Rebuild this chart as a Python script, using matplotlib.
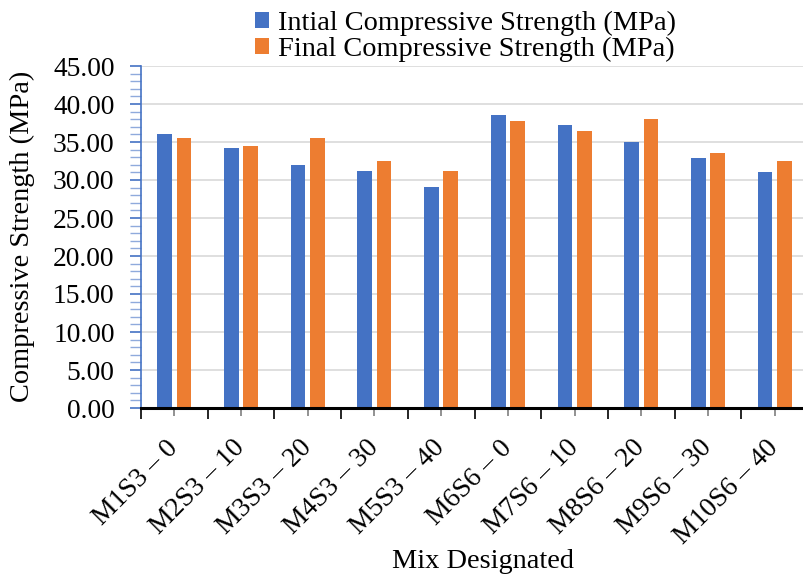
import matplotlib
matplotlib.use("Agg")
import matplotlib.pyplot as plt
from matplotlib.ticker import MultipleLocator, FixedLocator, FuncFormatter
import numpy as np

categories = ["M1S3 – 0", "M2S3 – 10", "M3S3 – 20", "M4S3 – 30", "M5S3 – 40",
              "M6S6 – 0", "M7S6 – 10", "M8S6 – 20", "M9S6 – 30", "M10S6 – 40"]
initial = [36.0, 34.2, 32.0, 31.2, 29.1, 38.5, 37.2, 35.0, 32.9, 31.0]
final = [35.5, 34.5, 35.5, 32.5, 31.2, 37.8, 36.5, 38.0, 33.6, 32.5]
series_names = ["Intial Compressive Strength (MPa)", "Final Compressive Strength (MPa)"]

plt.rcParams['font.family'] = ['Liberation Serif', 'DejaVu Serif']
FS = 20.4
TFS = 19.8

fig = plt.figure(figsize=(8.04, 5.82), dpi=100)
ax = fig.add_axes([141/804, 1-408/582, 667/804, 342/582])

x = np.arange(len(categories))
w = 0.22
off = 0.145
b1 = ax.bar(x - off, initial, w, color='#4472C4', label=series_names[0], zorder=3)
b2 = ax.bar(x + off, final, w, color='#ED7D31', label=series_names[1], zorder=3)

ax.set_xlim(-0.5, len(categories) - 0.5)
ax.set_ylim(0, 45)
ax.yaxis.set_major_locator(MultipleLocator(5))
ax.yaxis.set_minor_locator(MultipleLocator(1))
ax.yaxis.set_major_formatter(FuncFormatter(lambda v, p: f"{v:.2f}"))
ax.grid(axis='y', color='#D9D9D9', linewidth=1.2, zorder=0)

ax.set_xticks(x)
ax.set_xticklabels(categories, rotation=45, ha='right', va='center',
                   rotation_mode='anchor', fontsize=TFS)
ax.xaxis.set_minor_locator(FixedLocator(np.arange(-0.5, len(categories), 1.0)))
ax.tick_params(axis='x', which='major', length=6, width=1.2, color='#7F7F7F', direction='out', pad=20)
ax.tick_params(axis='x', which='minor', length=8, width=1.2, color='black', direction='out')
ax.tick_params(axis='y', which='major', length=8, width=1.2, color='#4472C4', labelsize=TFS, pad=11)
ax.tick_params(axis='y', which='minor', length=8, width=1.0, color='#8FAADC')

for s in ['top', 'right']:
    ax.spines[s].set_visible(False)
ax.spines['left'].set_color('#4472C4')
ax.spines['left'].set_linewidth(1.2)
ax.spines['bottom'].set_color('black')
ax.spines['bottom'].set_linewidth(2.2)
ax.spines['bottom'].set_zorder(4)

fig.text(22/804, 1-236/582, "Compressive Strength (MPa)", fontsize=FS,
         rotation=90, ha='center', va='center')
fig.text(483/804, 1-562/582, "Mix Designated", fontsize=FS, ha='center', va='center')

leg = fig.legend(handles=[b1, b2], labels=series_names, loc='upper left',
                 bbox_to_anchor=(241/804, 1 + 3/582), frameon=False, fontsize=FS,
                 handlelength=0.5, handleheight=0.5, handletextpad=0.3,
                 labelspacing=0.03, borderpad=0.0)

fig.savefig("out.png", dpi=100)
